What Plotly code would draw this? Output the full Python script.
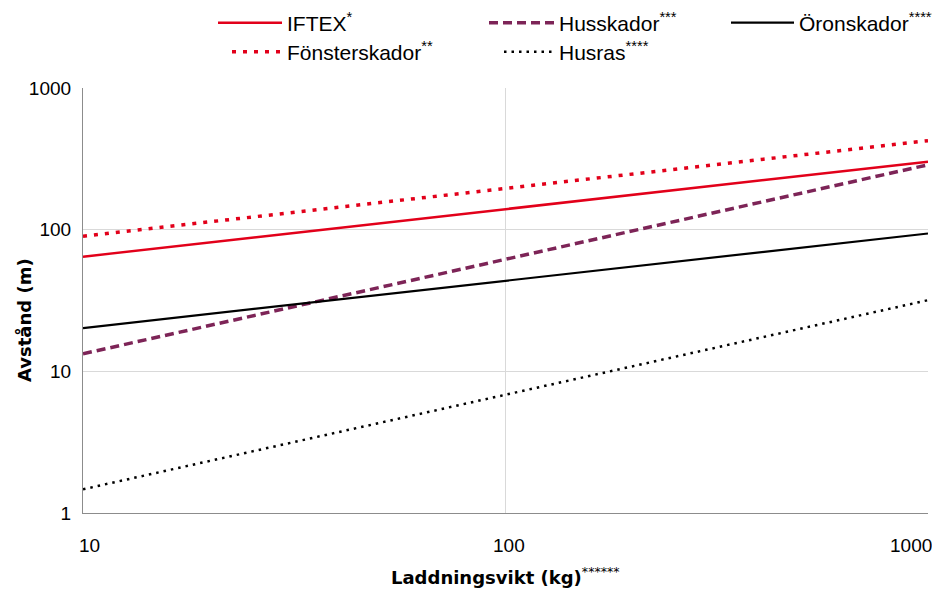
import math
import plotly.graph_objects as go

# Data (log-log, straight lines)
laddningsvikt = [10, 100, 1000]
iftex = [64.5, 140, 302]
fonsterskador = [90, 196, 425]
husskador = [13.3, 62, 287]
husras = [1.47, 6.8, 31.8]
oronskador = [20.2, 43.8, 94]

x_ticks = [10, 100, 1000]
y_ticks = [1, 10, 100, 1000]

RED = "#e2001a"
MAROON = "#7d2457"
FONT = "Liberation Sans, Arial, sans-serif"
TFONT = "DejaVu Sans, sans-serif"

OFF = 8  # page body margin: figure is drawn 8px right/down in the screenshot
W, H = 940 - OFF, 590 - OFF
L, T = 83 - OFF, 88 - OFF
R = W - (928 - OFF)
B = H - (513 - OFF)
pw = W - L - R
ph = H - T - B


def px_x(p):
    return ((p - OFF) - L) / pw


def px_y(p):
    return 1 - ((p - OFF) - T) / ph


# (name, values, line style, legend id, line start px, text start px, row)
series = [
    ("IFTEX<sup>*</sup>", iftex, dict(color=RED, width=2.5, dash="solid"), "legend", 218, 287, 1),
    ("Husskador<sup>***</sup>", husskador, dict(color=MAROON, width=3.5, dash="9px,5px"), "legend2", 489, 559, 1),
    ("Öronskador<sup>*****</sup>", oronskador, dict(color="#000000", width=2.2, dash="solid"), "legend3", 731, 799, 1),
    ("Fönsterskador<sup>**</sup>", fonsterskador, dict(color=RED, width=3.5, dash="4px,7px"), "legend4", 232, 287, 2),
    ("Husras<sup>****</sup>", husras, dict(color="#000000", width=2.5, dash="2.5px,5px"), "legend5", 504, 559, 2),
]

fig = go.Figure()
layout_legends = {}
for name, vals, line, leg, lx, tx, row in series:
    fig.add_trace(go.Scatter(x=laddningsvikt, y=vals, mode="lines", name=name,
                             line=line, legend=leg, showlegend=True))
    ypix = 23 if row == 1 else 52
    xleg = lx - 5
    layout_legends[leg] = dict(
        x=px_x(xleg), xanchor="left",
        y=px_y(ypix), yanchor="middle",
        orientation="h", itemwidth=max(30, tx - xleg - 10),
        bgcolor="rgba(0,0,0,0)", borderwidth=0,
        font=dict(family=FONT, size=21, color="#000000"),
    )

fig.update_layout(
    width=W, height=H,
    margin=dict(l=L, r=R, t=T, b=B, autoexpand=False),
    paper_bgcolor="white", plot_bgcolor="white",
    **layout_legends,
)

fig.update_xaxes(
    type="log", range=[1, 3],
    tickvals=x_ticks, showticklabels=False,
    showgrid=True, gridcolor="#d9d9d9", gridwidth=1,
    showline=True, linecolor="#8c8c8c", linewidth=1.2,
    ticks="", zeroline=False,
)
fig.update_yaxes(
    type="log", range=[0, 3],
    tickvals=y_ticks, ticktext=[str(v) for v in y_ticks],
    showgrid=True, gridcolor="#d9d9d9", gridwidth=1,
    showline=True, linecolor="#8c8c8c", linewidth=1.2,
    ticks="", ticklabelstandoff=7,
    tickfont=dict(family=FONT, size=19, color="#000000"),
    zeroline=False,
)

# x tick labels: first left-aligned, middle centred, last right-aligned (as in the reference)
anchors = ["left", "center", "right"]
shifts = [-6, 3, 6]
for v, a, s in zip(x_ticks, anchors, shifts):
    fig.add_annotation(
        x=math.log10(v), xref="x", y=0, yref="paper", yshift=-32,
        xanchor=a, yanchor="middle", xshift=s,
        text=str(v), showarrow=False,
        font=dict(family=FONT, size=19, color="#000000"),
    )

fig.add_annotation(
    xref="paper", yref="paper",
    x=0.5, y=px_y(576),
    xanchor="center", yanchor="middle",
    text="<b>Laddningsvikt (kg)</b><sup>******</sup>",
    showarrow=False,
    font=dict(family=TFONT, size=18, color="#000000"),
)
fig.add_annotation(
    xref="paper", yref="paper",
    x=px_x(24), y=px_y(320),
    xanchor="center", yanchor="middle", textangle=-90,
    text="<b>Avstånd (m)</b>",
    showarrow=False,
    font=dict(family=TFONT, size=18, color="#000000"),
)

fig.write_html("out.html")
